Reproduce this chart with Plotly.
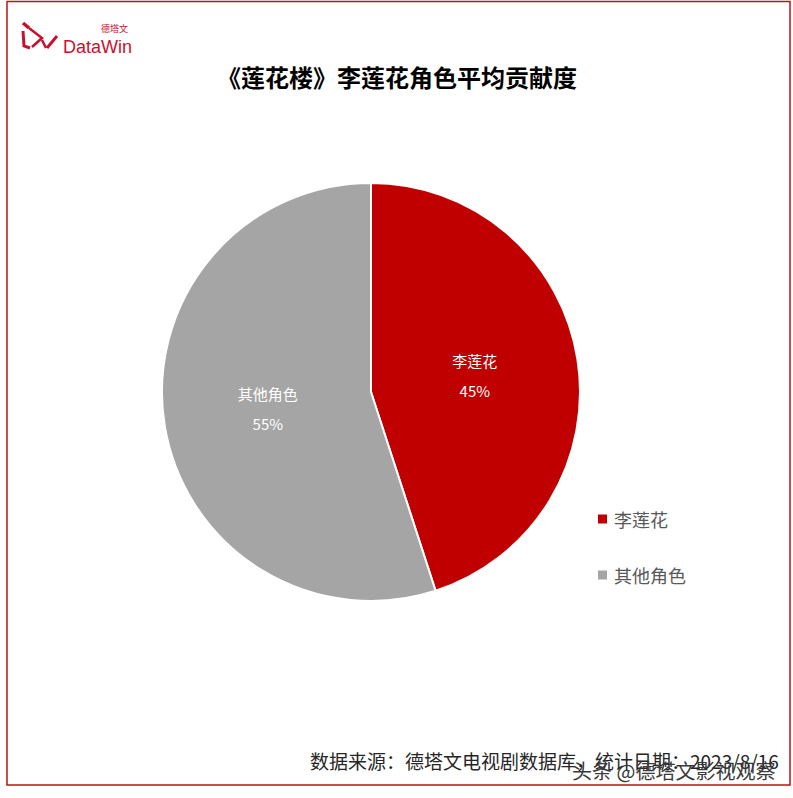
import plotly.graph_objects as go

# ---- data ----
labels = ["李莲花", "其他角色"]
values = [45, 55]
colors = ["#C00000", "#A5A5A5"]
title_text = "《莲花楼》李莲花角色平均贡献度"
source_text = "数据来源：德塔文电视剧数据库，统计日期：2023/8/16"
watermark_text = "头条 @德塔文影视观察"

W, H = 793, 798
FONT = "Noto Sans CJK SC"

def px(x):
    return x / W

def py(y):
    return 1 - y / H

fig = go.Figure()
fig.add_trace(go.Pie(
    labels=labels,
    values=values,
    marker=dict(colors=colors, line=dict(color="white", width=2)),
    sort=False,
    direction="clockwise",
    rotation=0,
    texttemplate="<span style='font-size:15px'>%{label}</span><br><span style='font-size:15px'>%{percent:.0%}</span>",
    textposition="inside",
    insidetextorientation="horizontal",
    textfont=dict(color="white", size=23, family=FONT),
    domain=dict(x=[px(162), px(580)], y=[py(601), py(183)]),
    showlegend=False,
    hoverinfo="label+percent",
))

annotations = []
shapes = []

# frame
shapes.append(dict(type="rect", xref="paper", yref="paper",
                   x0=px(7), x1=px(790), y0=py(785), y1=py(1.5),
                   line=dict(color="#B81414", width=1.5), fillcolor="rgba(0,0,0,0)"))

# title
annotations.append(dict(x=px(397), y=py(77), xref="paper", yref="paper",
                        text="<b>" + title_text + "</b>", showarrow=False,
                        font=dict(size=24, color="#000000", family=FONT),
                        xanchor="center", yanchor="middle"))

# custom legend
leg_y = [519, 575]
for lab, col, yy in zip(labels, colors, leg_y):
    shapes.append(dict(type="rect", xref="paper", yref="paper",
                       x0=px(598), x1=px(607), y0=py(yy + 4.5), y1=py(yy - 4.5),
                       line=dict(width=0), fillcolor=col))
    annotations.append(dict(x=px(612), y=py(yy), xref="paper", yref="paper",
                            text=lab, showarrow=False, xanchor="left", yanchor="middle",
                            font=dict(size=18, color="#595959", family=FONT)))

# source
annotations.append(dict(x=px(781), y=py(760), xref="paper", yref="paper",
                        text=source_text, showarrow=False, xanchor="right", yanchor="middle",
                        font=dict(size=19, color="#262626", family=FONT)))
# watermark
annotations.append(dict(x=px(777), y=py(770), xref="paper", yref="paper",
                        text=watermark_text, showarrow=False, xanchor="right", yanchor="middle",
                        font=dict(size=20, color="#3a3a3a", family=FONT)))

# logo text
annotations.append(dict(x=px(61), y=py(47), xref="paper", yref="paper",
                        text="DataWin", showarrow=False, xanchor="left", yanchor="middle",
                        font=dict(size=18, color="#C8102E", family="Liberation Sans")))
annotations.append(dict(x=px(114), y=py(28), xref="paper", yref="paper",
                        text="德塔文", showarrow=False, xanchor="center", yanchor="middle",
                        font=dict(size=9, color="#C8102E", family=FONT)))

# logo glyph (approximate strokes)
def pth(points):
    return "M " + " L ".join(f"{px(x):.5f},{py(y):.5f}" for x, y in points)

logo_strokes = [
    ([(23, 23), (29, 28)], 3.5),
    ([(23, 31), (24, 46), (30, 48)], 3),
    ([(29, 28), (42, 38), (32, 47)], 2.5),
    ([(42, 40), (46, 48)], 2.5),
    ([(47, 48), (57, 36)], 3),
]
for s, w in logo_strokes:
    shapes.append(dict(type="path", xref="paper", yref="paper", path=pth(s),
                       line=dict(color="#C8102E", width=w)))

fig.update_layout(
    width=W, height=H,
    margin=dict(l=0, r=0, t=0, b=0),
    paper_bgcolor="white", plot_bgcolor="white",
    annotations=annotations, shapes=shapes,
    font=dict(family=FONT),
)

fig.write_html("out.html",
               config={"displayModeBar": False},
               post_script="document.body.style.margin='0';document.body.style.overflow='hidden';")
